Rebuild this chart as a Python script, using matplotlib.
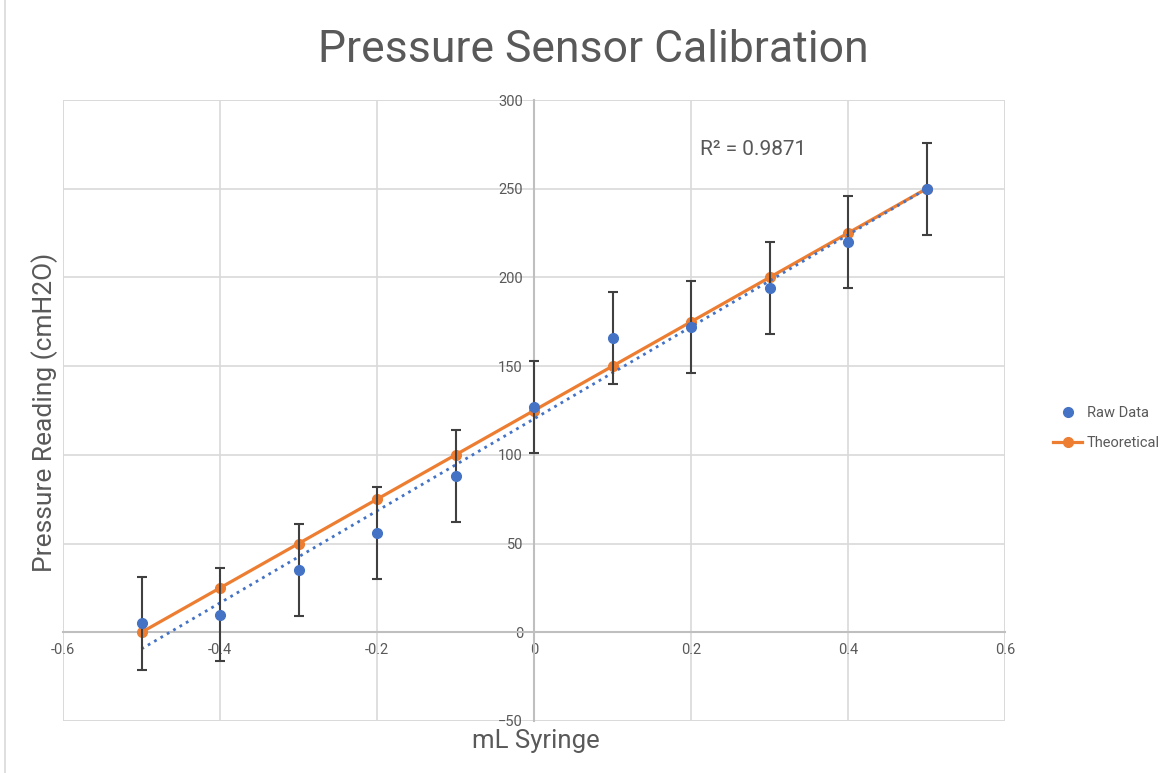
import numpy as np
import matplotlib.pyplot as plt
from matplotlib.lines import Line2D

plt.rcParams['font.family'] = ['Roboto', 'DejaVu Sans']

# datos
volumen = [-0.5, -0.4, -0.3, -0.2, -0.1, 0.0, 0.1, 0.2, 0.3, 0.4, 0.5]
lectura = [5, 10, 35, 56, 88, 127, 166, 172, 194, 220, 250]
error = [26, 26, 26, 26, 26, 26, 26, 26, 26, 26, 26]
teorico = [0, 25, 50, 75, 100, 125, 150, 175, 200, 225, 250]
xticks = [-0.6, -0.4, -0.2, 0, 0.2, 0.4, 0.6]
yticks = [-50, 0, 50, 100, 150, 200, 250, 300]

gris = "#595959"
azul = "#4472C4"
naranja = "#ED7D31"

fig = plt.figure(figsize=(11.75, 7.73), dpi=100)
ax = fig.add_axes([63/1175, 52/773, 942/1175, 621/773])

# linea de tendencia (ajuste lineal)
m, b = np.polyfit(volumen, lectura, 1)
xs = np.array([volumen[0], volumen[-1]])
ax.plot(xs, m*xs + b, ":", color=azul, linewidth=2, zorder=4)

ax.plot(volumen, teorico, "-o", color=naranja, linewidth=2.3, markersize=7,
        label="Theoretical", zorder=3)
ax.errorbar(volumen, lectura, yerr=error, fmt="none", ecolor="#404040",
            elinewidth=1.5, capsize=3.5, capthick=1.5, zorder=5)
ax.plot(volumen, lectura, "o", color=azul, markersize=7, label="Raw Data", zorder=6)

ax.set_xlim(-0.6, 0.6)
ax.set_ylim(-50, 300)
ax.set_xticks(xticks)
ax.set_yticks(yticks)
ax.set_xticklabels(["-0.6", "-0.4", "-0.2", "0", "0.2", "0.4", "0.6"])
ax.grid(True, color="#d9d9d9", linewidth=1.2)
ax.set_axisbelow(True)

# ejes en el cero, estilo excel
ax.spines["left"].set_position(("data", 0))
ax.spines["bottom"].set_position(("data", 0))
for s in ["left", "bottom"]:
    ax.spines[s].set_color("#bfbfbf")
    ax.spines[s].set_linewidth(1.5)
for s in ["top", "right"]:
    ax.spines[s].set_visible(False)
ax.add_patch(plt.Rectangle((0, 0), 1, 1, transform=ax.transAxes, fill=False,
                           edgecolor="#d9d9d9", linewidth=1.2, zorder=0))
ax.tick_params(length=0, labelsize=10.5, labelcolor=gris, pad=8)
for lbl in ax.get_yticklabels():
    lbl.set_horizontalalignment("right")

ax.text(0.211, 272, "R² = 0.9871", fontsize=15, color=gris, va="center")

fig.text(593/1175, 1 - 50/773, "Pressure Sensor Calibration", fontsize=32,
         color=gris, ha="center", va="center")
fig.text(45/1175, 1 - 412/773, "Pressure Reading (cmH2O)", fontsize=19,
         color=gris, rotation=90, ha="center", va="center")
fig.text(536/1175, 1 - 741/773, "mL Syringe", fontsize=18.5, color=gris,
         ha="center", va="center")

h = [Line2D([], [], marker="o", color=azul, linestyle="none", markersize=7),
     Line2D([], [], marker="o", color=naranja, linewidth=2.3, markersize=7)]
fig.legend(h, ["Raw Data", "Theoretical"], loc="center left",
           bbox_to_anchor=(1040/1175, 1 - 428/773), frameon=False,
           fontsize=10.5, labelcolor=gris, handlelength=2, handletextpad=0.3,
           labelspacing=1.1)

fig.add_artist(Line2D([5/1175, 5/1175], [0, 1], color="#d9d9d9", linewidth=1.2))

fig.savefig("out.png", dpi=100)
